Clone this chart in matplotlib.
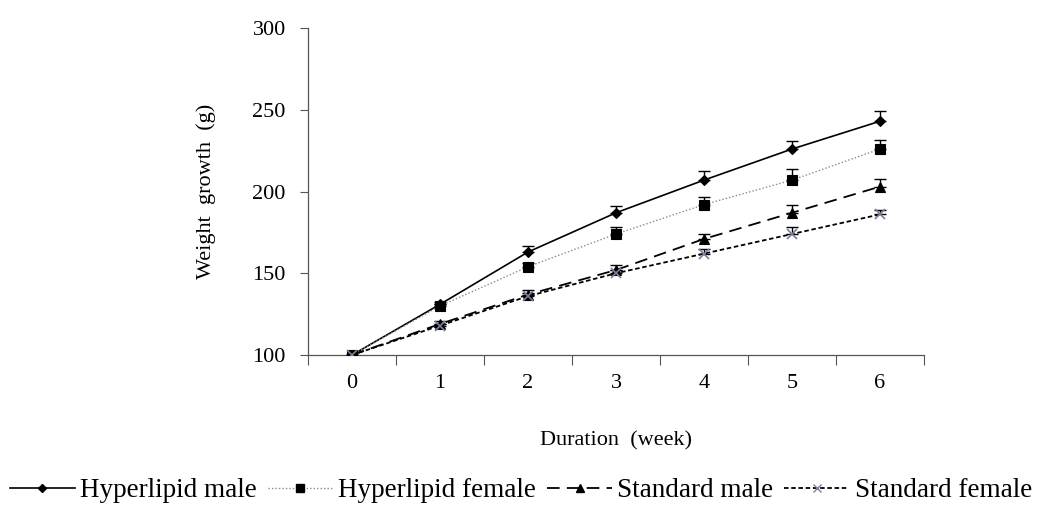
import numpy as np
import matplotlib
matplotlib.use('Agg')
import matplotlib.pyplot as plt
from matplotlib.lines import Line2D

plt.rcParams['font.family'] = ['Liberation Serif', 'DejaVu Serif']

WEEKS: list = [0, 1, 2, 3, 4, 5, 6]

HYPER_MALE: list = [100, 131, 163, 187, 207, 226, 243]
HYPER_MALE_ERR: list = [0, 1.5, 3.5, 4, 5.5, 5, 6]

HYPER_FEMALE: list = [100, 130, 154, 174, 192, 207, 226]
HYPER_FEMALE_ERR: list = [0, 1.5, 2, 4.5, 4.5, 6.5, 5.5]

STD_MALE: list = [100, 119, 137, 152, 171, 187, 203]
STD_MALE_ERR: list = [0, 1.5, 2.5, 3, 3, 4.5, 4.5]

STD_FEMALE: list = [100, 118, 136, 150, 162, 174, 186]
STD_FEMALE_ERR: list = [0, 1, 2, 2, 3, 4, 3]

LABELS: list = ['Hyperlipid male', 'Hyperlipid female', 'Standard male', 'Standard female']

# style per series: (line colour, linestyle, linewidth, marker, marker size, marker colour)
STYLES: list = [
    ('black', '-', 1.2, 'D', 5.5, 'black'),
    ('#8a8a8a', (0, (1, 1.5)), 1.0, 's', 7, 'black'),
    ('black', (0, (7, 4)), 1.3, '^', 7, 'black'),
    ('black', (0, (2.5, 1.5)), 1.3, 'x', 7, '#7a7f9a'),
]

fig = plt.figure(figsize=(10.42, 5.21), dpi=100)
ax = fig.add_axes([0.2956, 0.3186, 0.5912, 0.6276])

series = [(HYPER_MALE, HYPER_MALE_ERR), (HYPER_FEMALE, HYPER_FEMALE_ERR),
          (STD_MALE, STD_MALE_ERR), (STD_FEMALE, STD_FEMALE_ERR)]

handles = []
for (values, err), label, style in zip(series, LABELS, STYLES):
    colour, ls, lw, marker, ms, mcol = style
    # only the upper half of each error bar is shown
    ax.errorbar(WEEKS, values, yerr=[np.zeros(len(err)), err], fmt='none',
                ecolor='black', elinewidth=1, capsize=4.5, capthick=1, zorder=2)
    ax.plot(WEEKS, values, color=colour, linestyle=ls, linewidth=lw,
            marker=marker, markersize=ms, markerfacecolor=mcol, markeredgecolor=mcol,
            markeredgewidth=1.2 if marker == 'x' else 0.8, zorder=3)
    handles.append(Line2D([], [], color=colour, linestyle=ls, linewidth=lw,
                          marker=marker, markersize=ms * 0.8, markerfacecolor=mcol,
                          markeredgecolor=mcol))

ax.set_xlim(-0.5, 6.5)
ax.set_ylim(100, 300)
ax.set_yticks([100, 150, 200, 250, 300])
ax.set_xticks(WEEKS)
ax.set_xticks(np.arange(-0.5, 7, 1), minor=True)
ax.tick_params(axis='x', which='major', length=0, pad=14, labelsize=16)
ax.tick_params(axis='x', which='minor', length=7, direction='out', width=0.8, color='#555555')
ax.tick_params(axis='y', length=6, direction='out', width=0.8, color='#555555', pad=10, labelsize=16)

for side in ['top', 'right']:
    ax.spines[side].set_visible(False)
for side in ['left', 'bottom']:
    ax.spines[side].set_color('#555555')
    ax.spines[side].set_linewidth(0.9)

ax.set_ylabel('Weight  growth  (g)', fontsize=16, labelpad=26)
ax.set_xlabel('Duration  (week)', fontsize=16, labelpad=27)

fig.legend(handles, LABELS, loc='center', bbox_to_anchor=(0.5, 0.058), ncol=4,
           frameon=False, fontsize=19.5, handlelength=2.4, handletextpad=0.2,
           columnspacing=0.4, numpoints=1)

fig.savefig('out.png', dpi=100, facecolor='white')
